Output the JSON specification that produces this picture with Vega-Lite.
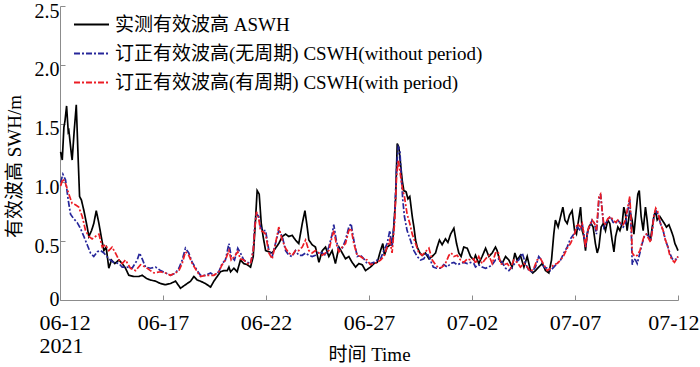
{
  "$schema": "https://vega.github.io/schema/vega-lite/v6.json",
  "autosize": {"type": "none"},
  "width": 618,
  "height": 294,
  "padding": {"left": 60, "top": 6, "right": 22, "bottom": 67},
  "background": "white",
  "config": {"view": {"stroke": null}, "font": "Liberation Serif"},
  "data": {"values": [
    {"s":"A","d":0.03,"v":1.26},{"s":"A","d":0.11,"v":1.19},{"s":"A","d":0.19,"v":1.47},{"s":"A","d":0.24,"v":1.52},{"s":"A","d":0.32,"v":1.65},{"s":"A","d":0.40,"v":1.43},{"s":"A","d":0.43,"v":1.44},{"s":"A","d":0.56,"v":1.23},{"s":"A","d":0.59,"v":1.19},{"s":"A","d":0.69,"v":1.44},{"s":"A","d":0.79,"v":1.66},{"s":"A","d":0.88,"v":1.21},{"s":"A","d":0.95,"v":0.88},{"s":"A","d":1.04,"v":0.85},{"s":"A","d":1.16,"v":0.76},{"s":"A","d":1.32,"v":0.62},{"s":"A","d":1.40,"v":0.54},{"s":"A","d":1.53,"v":0.59},{"s":"A","d":1.64,"v":0.65},{"s":"A","d":1.76,"v":0.76},{"s":"A","d":1.89,"v":0.65},{"s":"A","d":2.00,"v":0.54},{"s":"A","d":2.13,"v":0.42},{"s":"A","d":2.24,"v":0.45},{"s":"A","d":2.37,"v":0.27},{"s":"A","d":2.50,"v":0.34},{"s":"A","d":2.66,"v":0.31},{"s":"A","d":2.86,"v":0.34},{"s":"A","d":3.02,"v":0.31},{"s":"A","d":3.18,"v":0.27},{"s":"A","d":3.34,"v":0.21},{"s":"A","d":3.59,"v":0.20},{"s":"A","d":3.83,"v":0.20},{"s":"A","d":3.99,"v":0.21},{"s":"A","d":4.23,"v":0.18},{"s":"A","d":4.39,"v":0.17},{"s":"A","d":4.64,"v":0.16},
    {"s":"A","d":4.88,"v":0.14},{"s":"A","d":5.12,"v":0.13},{"s":"A","d":5.36,"v":0.14},{"s":"A","d":5.61,"v":0.16},{"s":"A","d":5.85,"v":0.10},{"s":"A","d":6.09,"v":0.13},{"s":"A","d":6.34,"v":0.16},{"s":"A","d":6.50,"v":0.20},{"s":"A","d":6.66,"v":0.17},{"s":"A","d":6.82,"v":0.16},{"s":"A","d":7.06,"v":0.14},{"s":"A","d":7.31,"v":0.11},{"s":"A","d":7.47,"v":0.16},{"s":"A","d":7.63,"v":0.20},{"s":"A","d":7.79,"v":0.24},{"s":"A","d":7.95,"v":0.25},{"s":"A","d":8.12,"v":0.25},{"s":"A","d":8.20,"v":0.28},{"s":"A","d":8.28,"v":0.24},{"s":"A","d":8.44,"v":0.27},{"s":"A","d":8.60,"v":0.24},{"s":"A","d":8.76,"v":0.34},{"s":"A","d":8.92,"v":0.31},{"s":"A","d":9.09,"v":0.30},{"s":"A","d":9.25,"v":0.28},{"s":"A","d":9.38,"v":0.37},{"s":"A","d":9.49,"v":0.68},{"s":"A","d":9.57,"v":0.93},{"s":"A","d":9.67,"v":0.90},{"s":"A","d":9.77,"v":0.65},{"s":"A","d":9.86,"v":0.54},
    {"s":"A","d":9.98,"v":0.42},{"s":"A","d":10.14,"v":0.41},{"s":"A","d":10.30,"v":0.40},{"s":"A","d":10.46,"v":0.44},{"s":"A","d":10.62,"v":0.48},{"s":"A","d":10.79,"v":0.54},{"s":"A","d":10.95,"v":0.56},{"s":"A","d":11.11,"v":0.54},{"s":"A","d":11.27,"v":0.55},{"s":"A","d":11.43,"v":0.51},{"s":"A","d":11.59,"v":0.48},{"s":"A","d":11.76,"v":0.65},{"s":"A","d":11.89,"v":0.76},{"s":"A","d":12.00,"v":0.62},{"s":"A","d":12.08,"v":0.51},{"s":"A","d":12.24,"v":0.47},{"s":"A","d":12.40,"v":0.45},{"s":"A","d":12.57,"v":0.32},{"s":"A","d":12.73,"v":0.42},{"s":"A","d":12.89,"v":0.45},{"s":"A","d":13.05,"v":0.37},{"s":"A","d":13.21,"v":0.42},{"s":"A","d":13.37,"v":0.31},{"s":"A","d":13.54,"v":0.45},{"s":"A","d":13.70,"v":0.40},{"s":"A","d":13.86,"v":0.35},{"s":"A","d":14.02,"v":0.37},{"s":"A","d":14.18,"v":0.32},{"s":"A","d":14.35,"v":0.28},{"s":"A","d":14.51,"v":0.31},{"s":"A","d":14.67,"v":0.30},{"s":"A","d":14.83,"v":0.25},{"s":"A","d":14.99,"v":0.27},
    {"s":"A","d":15.07,"v":0.28},{"s":"A","d":15.24,"v":0.31},{"s":"A","d":15.40,"v":0.32},{"s":"A","d":15.56,"v":0.42},{"s":"A","d":15.67,"v":0.48},{"s":"A","d":15.75,"v":0.38},{"s":"A","d":15.88,"v":0.45},{"s":"A","d":16.04,"v":0.47},{"s":"A","d":16.17,"v":0.54},{"s":"A","d":16.29,"v":0.85},{"s":"A","d":16.37,"v":1.33},{"s":"A","d":16.45,"v":1.30},{"s":"A","d":16.53,"v":1.16},{"s":"A","d":16.61,"v":1.02},{"s":"A","d":16.69,"v":0.93},{"s":"A","d":16.80,"v":0.92},{"s":"A","d":16.89,"v":0.86},{"s":"A","d":16.98,"v":0.88},{"s":"A","d":17.10,"v":0.71},{"s":"A","d":17.18,"v":0.62},{"s":"A","d":17.26,"v":0.51},{"s":"A","d":17.34,"v":0.45},{"s":"A","d":17.47,"v":0.40},{"s":"A","d":17.58,"v":0.38},{"s":"A","d":17.74,"v":0.40},{"s":"A","d":17.91,"v":0.35},{"s":"A","d":18.07,"v":0.37},{"s":"A","d":18.23,"v":0.40},{"s":"A","d":18.31,"v":0.45},{"s":"A","d":18.42,"v":0.51},{"s":"A","d":18.55,"v":0.47},{"s":"A","d":18.71,"v":0.52},{"s":"A","d":18.83,"v":0.49},{"s":"A","d":18.96,"v":0.56},{"s":"A","d":19.12,"v":0.61},{"s":"A","d":19.25,"v":0.48},{"s":"A","d":19.36,"v":0.40},{"s":"A","d":19.47,"v":0.37},{"s":"A","d":19.60,"v":0.45},{"s":"A","d":19.77,"v":0.44},{"s":"A","d":19.93,"v":0.37},{"s":"A","d":20.09,"v":0.34},
    {"s":"A","d":20.17,"v":0.38},{"s":"A","d":20.33,"v":0.31},{"s":"A","d":20.49,"v":0.37},{"s":"A","d":20.66,"v":0.44},{"s":"A","d":20.82,"v":0.37},{"s":"A","d":20.98,"v":0.40},{"s":"A","d":21.14,"v":0.45},{"s":"A","d":21.22,"v":0.42},{"s":"A","d":21.34,"v":0.34},{"s":"A","d":21.46,"v":0.31},{"s":"A","d":21.63,"v":0.37},{"s":"A","d":21.79,"v":0.34},{"s":"A","d":21.95,"v":0.28},{"s":"A","d":22.08,"v":0.40},{"s":"A","d":22.19,"v":0.34},{"s":"A","d":22.35,"v":0.38},{"s":"A","d":22.52,"v":0.28},{"s":"A","d":22.68,"v":0.37},{"s":"A","d":22.84,"v":0.25},{"s":"A","d":22.95,"v":0.23},{"s":"A","d":23.08,"v":0.25},{"s":"A","d":23.24,"v":0.28},{"s":"A","d":23.41,"v":0.31},{"s":"A","d":23.57,"v":0.25},{"s":"A","d":23.73,"v":0.23},{"s":"A","d":23.86,"v":0.34},{"s":"A","d":23.97,"v":0.56},{"s":"A","d":24.05,"v":0.68},{"s":"A","d":24.18,"v":0.62},{"s":"A","d":24.30,"v":0.71},{"s":"A","d":24.41,"v":0.79},{"s":"A","d":24.51,"v":0.68},{"s":"A","d":24.62,"v":0.65},{"s":"A","d":24.73,"v":0.72},{"s":"A","d":24.86,"v":0.76},{"s":"A","d":24.98,"v":0.59},{"s":"A","d":25.07,"v":0.56},
    {"s":"A","d":25.27,"v":0.79},{"s":"A","d":25.35,"v":0.59},{"s":"A","d":25.43,"v":0.54},{"s":"A","d":25.51,"v":0.42},{"s":"A","d":25.59,"v":0.56},{"s":"A","d":25.67,"v":0.62},{"s":"A","d":25.78,"v":0.65},{"s":"A","d":25.88,"v":0.62},{"s":"A","d":25.99,"v":0.48},{"s":"A","d":26.08,"v":0.40},{"s":"A","d":26.16,"v":0.45},{"s":"A","d":26.27,"v":0.62},{"s":"A","d":26.37,"v":0.65},{"s":"A","d":26.48,"v":0.59},{"s":"A","d":26.59,"v":0.68},{"s":"A","d":26.69,"v":0.65},{"s":"A","d":26.80,"v":0.51},{"s":"A","d":26.89,"v":0.41},{"s":"A","d":26.97,"v":0.54},{"s":"A","d":27.08,"v":0.62},{"s":"A","d":27.18,"v":0.59},{"s":"A","d":27.29,"v":0.65},{"s":"A","d":27.37,"v":0.79},{"s":"A","d":27.45,"v":0.73},{"s":"A","d":27.53,"v":0.59},{"s":"A","d":27.66,"v":0.76},{"s":"A","d":27.77,"v":0.68},{"s":"A","d":27.86,"v":0.56},{"s":"A","d":27.94,"v":0.71},{"s":"A","d":28.05,"v":0.90},{"s":"A","d":28.12,"v":0.93},{"s":"A","d":28.21,"v":0.71},{"s":"A","d":28.31,"v":0.59},{"s":"A","d":28.42,"v":0.79},{"s":"A","d":28.50,"v":0.68},{"s":"A","d":28.58,"v":0.54},{"s":"A","d":28.67,"v":0.52},{"s":"A","d":28.75,"v":0.62},{"s":"A","d":28.83,"v":0.71},{"s":"A","d":28.91,"v":0.76},{"s":"A","d":28.99,"v":0.68},{"s":"A","d":29.12,"v":0.71},{"s":"A","d":29.23,"v":0.68},{"s":"A","d":29.34,"v":0.65},{"s":"A","d":29.44,"v":0.62},{"s":"A","d":29.56,"v":0.64},{"s":"A","d":29.67,"v":0.59},{"s":"A","d":29.77,"v":0.54},{"s":"A","d":29.85,"v":0.48},{"s":"A","d":29.93,"v":0.45},{"s":"A","d":30.0,"v":0.42},

    {"s":"B","d":0.03,"v":1.00},{"s":"B","d":0.14,"v":1.07},{"s":"B","d":0.27,"v":1.02},{"s":"B","d":0.40,"v":0.85},{"s":"B","d":0.51,"v":0.73},{"s":"B","d":0.67,"v":0.69},{"s":"B","d":0.83,"v":0.66},{"s":"B","d":0.99,"v":0.61},{"s":"B","d":1.16,"v":0.54},{"s":"B","d":1.32,"v":0.47},{"s":"B","d":1.48,"v":0.40},{"s":"B","d":1.64,"v":0.37},{"s":"B","d":1.81,"v":0.41},{"s":"B","d":1.97,"v":0.42},{"s":"B","d":2.13,"v":0.40},{"s":"B","d":2.37,"v":0.35},{"s":"B","d":2.61,"v":0.32},{"s":"B","d":2.86,"v":0.31},{"s":"B","d":3.02,"v":0.28},{"s":"B","d":3.26,"v":0.28},{"s":"B","d":3.50,"v":0.27},{"s":"B","d":3.75,"v":0.34},{"s":"B","d":3.86,"v":0.40},{"s":"B","d":3.99,"v":0.35},{"s":"B","d":4.15,"v":0.28},{"s":"B","d":4.39,"v":0.27},{"s":"B","d":4.64,"v":0.28},
    {"s":"B","d":4.88,"v":0.25},{"s":"B","d":5.12,"v":0.23},{"s":"B","d":5.36,"v":0.21},{"s":"B","d":5.61,"v":0.23},{"s":"B","d":5.77,"v":0.27},{"s":"B","d":5.93,"v":0.34},{"s":"B","d":6.09,"v":0.44},{"s":"B","d":6.25,"v":0.40},{"s":"B","d":6.42,"v":0.32},{"s":"B","d":6.66,"v":0.25},{"s":"B","d":6.82,"v":0.21},{"s":"B","d":7.06,"v":0.21},{"s":"B","d":7.31,"v":0.23},{"s":"B","d":7.47,"v":0.21},{"s":"B","d":7.71,"v":0.24},{"s":"B","d":7.87,"v":0.31},{"s":"B","d":8.03,"v":0.34},{"s":"B","d":8.20,"v":0.48},{"s":"B","d":8.31,"v":0.37},{"s":"B","d":8.47,"v":0.34},{"s":"B","d":8.63,"v":0.44},{"s":"B","d":8.76,"v":0.40},{"s":"B","d":8.92,"v":0.34},{"s":"B","d":9.09,"v":0.32},{"s":"B","d":9.25,"v":0.31},{"s":"B","d":9.38,"v":0.42},{"s":"B","d":9.46,"v":0.65},{"s":"B","d":9.54,"v":0.73},{"s":"B","d":9.65,"v":0.71},{"s":"B","d":9.73,"v":0.62},{"s":"B","d":9.86,"v":0.59},
    {"s":"B","d":9.98,"v":0.59},{"s":"B","d":10.14,"v":0.42},{"s":"B","d":10.30,"v":0.37},{"s":"B","d":10.46,"v":0.48},{"s":"B","d":10.62,"v":0.59},{"s":"B","d":10.79,"v":0.54},{"s":"B","d":10.95,"v":0.42},{"s":"B","d":11.11,"v":0.38},{"s":"B","d":11.27,"v":0.37},{"s":"B","d":11.43,"v":0.42},{"s":"B","d":11.59,"v":0.38},{"s":"B","d":11.76,"v":0.38},{"s":"B","d":11.92,"v":0.40},{"s":"B","d":12.08,"v":0.38},{"s":"B","d":12.24,"v":0.37},{"s":"B","d":12.40,"v":0.38},{"s":"B","d":12.57,"v":0.41},{"s":"B","d":12.73,"v":0.40},{"s":"B","d":12.89,"v":0.38},{"s":"B","d":13.05,"v":0.45},{"s":"B","d":13.21,"v":0.56},{"s":"B","d":13.29,"v":0.64},{"s":"B","d":13.41,"v":0.51},{"s":"B","d":13.54,"v":0.42},{"s":"B","d":13.70,"v":0.44},{"s":"B","d":13.86,"v":0.51},{"s":"B","d":14.02,"v":0.62},{"s":"B","d":14.13,"v":0.65},{"s":"B","d":14.26,"v":0.51},{"s":"B","d":14.43,"v":0.37},{"s":"B","d":14.59,"v":0.38},{"s":"B","d":14.75,"v":0.35},{"s":"B","d":14.91,"v":0.31},
    {"s":"B","d":15.07,"v":0.31},{"s":"B","d":15.24,"v":0.32},{"s":"B","d":15.40,"v":0.34},{"s":"B","d":15.56,"v":0.35},{"s":"B","d":15.72,"v":0.42},{"s":"B","d":15.88,"v":0.48},{"s":"B","d":16.01,"v":0.59},{"s":"B","d":16.12,"v":0.45},{"s":"B","d":16.24,"v":0.71},{"s":"B","d":16.34,"v":1.13},{"s":"B","d":16.42,"v":1.30},{"s":"B","d":16.50,"v":1.27},{"s":"B","d":16.56,"v":1.07},{"s":"B","d":16.64,"v":0.85},{"s":"B","d":16.72,"v":0.71},{"s":"B","d":16.85,"v":0.59},{"s":"B","d":17.01,"v":0.51},{"s":"B","d":17.18,"v":0.42},{"s":"B","d":17.34,"v":0.37},{"s":"B","d":17.50,"v":0.34},{"s":"B","d":17.66,"v":0.35},{"s":"B","d":17.82,"v":0.40},{"s":"B","d":17.95,"v":0.35},{"s":"B","d":18.12,"v":0.28},{"s":"B","d":18.28,"v":0.27},{"s":"B","d":18.47,"v":0.27},{"s":"B","d":18.63,"v":0.30},{"s":"B","d":18.80,"v":0.28},{"s":"B","d":18.96,"v":0.31},{"s":"B","d":19.12,"v":0.32},{"s":"B","d":19.28,"v":0.30},{"s":"B","d":19.44,"v":0.31},{"s":"B","d":19.60,"v":0.32},{"s":"B","d":19.77,"v":0.31},{"s":"B","d":19.93,"v":0.32},{"s":"B","d":20.09,"v":0.31},
    {"s":"B","d":20.17,"v":0.28},{"s":"B","d":20.33,"v":0.30},{"s":"B","d":20.49,"v":0.28},{"s":"B","d":20.66,"v":0.27},{"s":"B","d":20.82,"v":0.28},{"s":"B","d":20.98,"v":0.30},{"s":"B","d":21.14,"v":0.34},{"s":"B","d":21.30,"v":0.35},{"s":"B","d":21.46,"v":0.32},{"s":"B","d":21.63,"v":0.27},{"s":"B","d":21.79,"v":0.25},{"s":"B","d":21.95,"v":0.28},{"s":"B","d":22.11,"v":0.32},{"s":"B","d":22.27,"v":0.34},{"s":"B","d":22.44,"v":0.40},{"s":"B","d":22.60,"v":0.31},{"s":"B","d":22.76,"v":0.25},{"s":"B","d":22.92,"v":0.24},{"s":"B","d":23.08,"v":0.28},{"s":"B","d":23.24,"v":0.37},{"s":"B","d":23.37,"v":0.34},{"s":"B","d":23.49,"v":0.28},{"s":"B","d":23.65,"v":0.27},{"s":"B","d":23.81,"v":0.25},{"s":"B","d":23.97,"v":0.28},{"s":"B","d":24.13,"v":0.31},{"s":"B","d":24.30,"v":0.34},{"s":"B","d":24.46,"v":0.40},{"s":"B","d":24.62,"v":0.45},{"s":"B","d":24.78,"v":0.52},{"s":"B","d":24.94,"v":0.56},{"s":"B","d":25.11,"v":0.62},
    {"s":"B","d":25.27,"v":0.59},{"s":"B","d":25.35,"v":0.65},{"s":"B","d":25.43,"v":0.56},{"s":"B","d":25.51,"v":0.45},{"s":"B","d":25.62,"v":0.59},{"s":"B","d":25.72,"v":0.62},{"s":"B","d":25.83,"v":0.68},{"s":"B","d":25.95,"v":0.65},{"s":"B","d":26.04,"v":0.56},{"s":"B","d":26.16,"v":0.85},{"s":"B","d":26.24,"v":0.90},{"s":"B","d":26.32,"v":0.76},{"s":"B","d":26.40,"v":0.62},{"s":"B","d":26.48,"v":0.65},{"s":"B","d":26.59,"v":0.68},{"s":"B","d":26.72,"v":0.71},{"s":"B","d":26.85,"v":0.66},{"s":"B","d":26.97,"v":0.65},{"s":"B","d":27.08,"v":0.68},{"s":"B","d":27.21,"v":0.65},{"s":"B","d":27.34,"v":0.62},{"s":"B","d":27.45,"v":0.65},{"s":"B","d":27.56,"v":0.76},{"s":"B","d":27.66,"v":0.85},{"s":"B","d":27.73,"v":0.59},{"s":"B","d":27.78,"v":0.30},{"s":"B","d":27.86,"v":0.35},{"s":"B","d":27.94,"v":0.34},{"s":"B","d":28.02,"v":0.31},{"s":"B","d":28.15,"v":0.40},{"s":"B","d":28.26,"v":0.48},{"s":"B","d":28.37,"v":0.54},{"s":"B","d":28.47,"v":0.56},{"s":"B","d":28.58,"v":0.54},{"s":"B","d":28.67,"v":0.51},{"s":"B","d":28.75,"v":0.59},{"s":"B","d":28.83,"v":0.71},{"s":"B","d":28.92,"v":0.76},{"s":"B","d":29.02,"v":0.73},{"s":"B","d":29.15,"v":0.65},{"s":"B","d":29.28,"v":0.59},{"s":"B","d":29.39,"v":0.51},{"s":"B","d":29.51,"v":0.45},{"s":"B","d":29.60,"v":0.40},{"s":"B","d":29.72,"v":0.35},{"s":"B","d":29.83,"v":0.34},{"s":"B","d":29.93,"v":0.35},{"s":"B","d":30.0,"v":0.37},

    {"s":"C","d":0.03,"v":0.97},{"s":"C","d":0.14,"v":1.03},{"s":"C","d":0.27,"v":0.99},{"s":"C","d":0.43,"v":0.90},{"s":"C","d":0.59,"v":0.82},{"s":"C","d":0.75,"v":0.81},{"s":"C","d":0.91,"v":0.79},{"s":"C","d":1.08,"v":0.71},{"s":"C","d":1.24,"v":0.59},{"s":"C","d":1.40,"v":0.54},{"s":"C","d":1.56,"v":0.52},{"s":"C","d":1.72,"v":0.54},{"s":"C","d":1.89,"v":0.56},{"s":"C","d":2.05,"v":0.45},{"s":"C","d":2.21,"v":0.47},{"s":"C","d":2.37,"v":0.42},{"s":"C","d":2.53,"v":0.45},{"s":"C","d":2.69,"v":0.40},{"s":"C","d":2.86,"v":0.34},{"s":"C","d":3.02,"v":0.31},{"s":"C","d":3.18,"v":0.34},{"s":"C","d":3.42,"v":0.27},{"s":"C","d":3.67,"v":0.25},{"s":"C","d":3.91,"v":0.30},{"s":"C","d":4.15,"v":0.28},{"s":"C","d":4.39,"v":0.25},{"s":"C","d":4.56,"v":0.23},
    {"s":"C","d":4.88,"v":0.24},{"s":"C","d":5.12,"v":0.23},{"s":"C","d":5.36,"v":0.21},{"s":"C","d":5.61,"v":0.23},{"s":"C","d":5.77,"v":0.25},{"s":"C","d":5.93,"v":0.31},{"s":"C","d":6.09,"v":0.41},{"s":"C","d":6.25,"v":0.38},{"s":"C","d":6.42,"v":0.31},{"s":"C","d":6.66,"v":0.24},{"s":"C","d":6.82,"v":0.20},{"s":"C","d":7.06,"v":0.21},{"s":"C","d":7.31,"v":0.21},{"s":"C","d":7.47,"v":0.21},{"s":"C","d":7.71,"v":0.24},{"s":"C","d":7.87,"v":0.30},{"s":"C","d":8.03,"v":0.34},{"s":"C","d":8.20,"v":0.42},{"s":"C","d":8.31,"v":0.34},{"s":"C","d":8.47,"v":0.37},{"s":"C","d":8.63,"v":0.41},{"s":"C","d":8.76,"v":0.35},{"s":"C","d":8.92,"v":0.34},{"s":"C","d":9.09,"v":0.31},{"s":"C","d":9.25,"v":0.31},{"s":"C","d":9.38,"v":0.42},{"s":"C","d":9.46,"v":0.62},{"s":"C","d":9.54,"v":0.75},{"s":"C","d":9.65,"v":0.69},{"s":"C","d":9.73,"v":0.59},{"s":"C","d":9.86,"v":0.58},
    {"s":"C","d":9.98,"v":0.56},{"s":"C","d":10.14,"v":0.40},{"s":"C","d":10.30,"v":0.35},{"s":"C","d":10.46,"v":0.48},{"s":"C","d":10.62,"v":0.62},{"s":"C","d":10.79,"v":0.51},{"s":"C","d":10.95,"v":0.44},{"s":"C","d":11.11,"v":0.40},{"s":"C","d":11.27,"v":0.38},{"s":"C","d":11.43,"v":0.42},{"s":"C","d":11.59,"v":0.42},{"s":"C","d":11.76,"v":0.45},{"s":"C","d":11.92,"v":0.51},{"s":"C","d":12.08,"v":0.42},{"s":"C","d":12.24,"v":0.40},{"s":"C","d":12.40,"v":0.42},{"s":"C","d":12.57,"v":0.40},{"s":"C","d":12.73,"v":0.38},{"s":"C","d":12.89,"v":0.40},{"s":"C","d":13.05,"v":0.42},{"s":"C","d":13.21,"v":0.54},{"s":"C","d":13.29,"v":0.59},{"s":"C","d":13.41,"v":0.48},{"s":"C","d":13.54,"v":0.41},{"s":"C","d":13.70,"v":0.45},{"s":"C","d":13.86,"v":0.48},{"s":"C","d":14.02,"v":0.59},{"s":"C","d":14.13,"v":0.61},{"s":"C","d":14.26,"v":0.48},{"s":"C","d":14.43,"v":0.38},{"s":"C","d":14.59,"v":0.37},{"s":"C","d":14.75,"v":0.35},{"s":"C","d":14.91,"v":0.34},
    {"s":"C","d":15.07,"v":0.30},{"s":"C","d":15.24,"v":0.31},{"s":"C","d":15.40,"v":0.32},{"s":"C","d":15.56,"v":0.34},{"s":"C","d":15.72,"v":0.37},{"s":"C","d":15.88,"v":0.45},{"s":"C","d":16.01,"v":0.51},{"s":"C","d":16.12,"v":0.40},{"s":"C","d":16.24,"v":0.65},{"s":"C","d":16.34,"v":1.05},{"s":"C","d":16.42,"v":1.19},{"s":"C","d":16.50,"v":1.10},{"s":"C","d":16.56,"v":1.02},{"s":"C","d":16.64,"v":0.93},{"s":"C","d":16.72,"v":0.88},{"s":"C","d":16.85,"v":0.73},{"s":"C","d":16.98,"v":0.65},{"s":"C","d":17.10,"v":0.56},{"s":"C","d":17.26,"v":0.48},{"s":"C","d":17.42,"v":0.40},{"s":"C","d":17.58,"v":0.38},{"s":"C","d":17.74,"v":0.41},{"s":"C","d":17.91,"v":0.44},{"s":"C","d":18.07,"v":0.34},{"s":"C","d":18.23,"v":0.30},{"s":"C","d":18.39,"v":0.27},{"s":"C","d":18.55,"v":0.28},{"s":"C","d":18.71,"v":0.31},{"s":"C","d":18.88,"v":0.38},{"s":"C","d":18.99,"v":0.40},{"s":"C","d":19.12,"v":0.37},{"s":"C","d":19.28,"v":0.38},{"s":"C","d":19.44,"v":0.34},{"s":"C","d":19.60,"v":0.32},{"s":"C","d":19.77,"v":0.35},{"s":"C","d":19.93,"v":0.34},{"s":"C","d":20.09,"v":0.35},
    {"s":"C","d":20.17,"v":0.31},{"s":"C","d":20.33,"v":0.37},{"s":"C","d":20.49,"v":0.31},{"s":"C","d":20.66,"v":0.35},{"s":"C","d":20.82,"v":0.38},{"s":"C","d":20.98,"v":0.31},{"s":"C","d":21.14,"v":0.40},{"s":"C","d":21.27,"v":0.41},{"s":"C","d":21.38,"v":0.31},{"s":"C","d":21.55,"v":0.30},{"s":"C","d":21.71,"v":0.31},{"s":"C","d":21.87,"v":0.27},{"s":"C","d":22.03,"v":0.34},{"s":"C","d":22.19,"v":0.32},{"s":"C","d":22.35,"v":0.28},{"s":"C","d":22.52,"v":0.31},{"s":"C","d":22.68,"v":0.28},{"s":"C","d":22.84,"v":0.24},{"s":"C","d":23.00,"v":0.27},{"s":"C","d":23.16,"v":0.34},{"s":"C","d":23.33,"v":0.35},{"s":"C","d":23.49,"v":0.30},{"s":"C","d":23.65,"v":0.25},{"s":"C","d":23.81,"v":0.27},{"s":"C","d":23.97,"v":0.30},{"s":"C","d":24.13,"v":0.31},{"s":"C","d":24.30,"v":0.34},{"s":"C","d":24.46,"v":0.38},{"s":"C","d":24.62,"v":0.44},{"s":"C","d":24.78,"v":0.48},{"s":"C","d":24.94,"v":0.54},{"s":"C","d":25.11,"v":0.65},
    {"s":"C","d":25.27,"v":0.62},{"s":"C","d":25.35,"v":0.65},{"s":"C","d":25.43,"v":0.56},{"s":"C","d":25.51,"v":0.45},{"s":"C","d":25.62,"v":0.59},{"s":"C","d":25.72,"v":0.64},{"s":"C","d":25.83,"v":0.68},{"s":"C","d":25.95,"v":0.65},{"s":"C","d":26.04,"v":0.59},{"s":"C","d":26.16,"v":0.88},{"s":"C","d":26.24,"v":0.90},{"s":"C","d":26.32,"v":0.76},{"s":"C","d":26.40,"v":0.64},{"s":"C","d":26.48,"v":0.65},{"s":"C","d":26.59,"v":0.69},{"s":"C","d":26.72,"v":0.71},{"s":"C","d":26.85,"v":0.68},{"s":"C","d":26.97,"v":0.66},{"s":"C","d":27.08,"v":0.68},{"s":"C","d":27.21,"v":0.65},{"s":"C","d":27.34,"v":0.64},{"s":"C","d":27.45,"v":0.68},{"s":"C","d":27.56,"v":0.79},{"s":"C","d":27.66,"v":0.88},{"s":"C","d":27.73,"v":0.65},{"s":"C","d":27.78,"v":0.40},{"s":"C","d":27.86,"v":0.38},{"s":"C","d":27.94,"v":0.37},{"s":"C","d":28.02,"v":0.38},{"s":"C","d":28.15,"v":0.42},{"s":"C","d":28.26,"v":0.49},{"s":"C","d":28.37,"v":0.55},{"s":"C","d":28.47,"v":0.56},{"s":"C","d":28.58,"v":0.52},{"s":"C","d":28.67,"v":0.49},{"s":"C","d":28.75,"v":0.59},{"s":"C","d":28.83,"v":0.72},{"s":"C","d":28.92,"v":0.78},{"s":"C","d":29.02,"v":0.75},{"s":"C","d":29.15,"v":0.65},{"s":"C","d":29.28,"v":0.59},{"s":"C","d":29.39,"v":0.51},{"s":"C","d":29.51,"v":0.45},{"s":"C","d":29.60,"v":0.38},{"s":"C","d":29.72,"v":0.34},{"s":"C","d":29.83,"v":0.32},{"s":"C","d":29.93,"v":0.35},{"s":"C","d":30.0,"v":0.37}
  ]},
  "mark": {"type": "line", "strokeWidth": 1.7, "interpolate": "linear"},
  "encoding": {
    "x": {
      "field": "d", "type": "quantitative",
      "scale": {"domain": [0, 30], "nice": false, "zero": false},
      "axis": {
        "values": [0, 5, 10, 15, 20, 25, 30],
        "grid": false,
        "domainColor": "#8c8c8c", "tickColor": "#8c8c8c", "tickSize": -5,
        "labelFont": "Liberation Serif", "labelFontSize": 22, "labelColor": "#000",
        "labelPadding": 17, "labelLineHeight": 23, "labelBaseline": "top",
        "labelFlush": true, "labelFlushOffset": 21,
        "labelExpr": "datum.value == 0 ? ['06-12', '2021'] : ['06-12','06-17','06-22','06-27','07-02','07-07','07-12'][round(datum.value / 5)]",
        "title": "时间 Time",
        "titleFont": "Liberation Serif, Noto Sans CJK SC", "titleFontSize": 19, "titleFontWeight": "normal", "titleColor": "#000",
        "titleY": 60, "titleBaseline": "alphabetic"
      }
    },
    "y": {
      "field": "v", "type": "quantitative",
      "scale": {"domain": [0, 2.5], "nice": false},
      "axis": {
        "values": [0, 0.5, 1, 1.5, 2, 2.5],
        "grid": false,
        "domainColor": "#8c8c8c", "tickColor": "#8c8c8c", "tickSize": -5,
        "labelFont": "Liberation Serif", "labelFontSize": 20, "labelColor": "#000",
        "labelPadding": 6, "labelOffset": 5,
        "labelBaseline": {"condition": {"test": "datum.value == 0", "value": "alphabetic"}, "value": "middle"},
        "labelExpr": "datum.value == 0 ? '0' : format(datum.value, '.1f')",
        "title": "有效波高 SWH/m",
        "titleFont": "Liberation Serif, Noto Sans CJK SC", "titleFontSize": 19, "titleFontWeight": "normal", "titleColor": "#000",
        "titleX": -46, "titleY": 160, "titleBaseline": "middle", "titleAngle": 270
      }
    },
    "color": {
      "field": "s", "type": "nominal",
      "scale": {"domain": ["A", "B", "C"], "range": ["#000000", "#26269a", "#ec1c24"]},
      "legend": {
        "orient": "none", "legendX": 13, "legendY": 0, "title": null,
        "padding": 0,
        "labelFont": "Liberation Serif, Noto Sans CJK SC", "labelFontSize": 19, "labelColor": "#000", "labelLimit": 0,
        "symbolType": "stroke", "symbolSize": 1225, "symbolStrokeWidth": 2,
        "rowPadding": -8, "labelOffset": 5,
        "labelExpr": "datum.label == 'A' ? '实测有效波高 ASWH' : datum.label == 'B' ? '订正有效波高(无周期) CSWH(without period)' : '订正有效波高(有周期) CSWH(with period)'"
      }
    },
    "strokeDash": {
      "field": "s", "type": "nominal",
      "scale": {"domain": ["A", "B", "C"], "range": [[1, 0], [6, 2, 2, 2], [6, 2, 2, 2]]},
      "legend": null
    }
  }
}
